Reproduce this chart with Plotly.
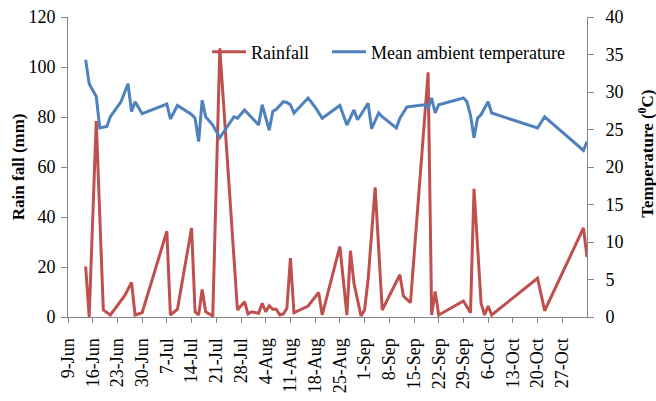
import plotly.graph_objects as go

rain_dates = ["2012-06-14", "2012-06-15", "2012-06-17", "2012-06-19", "2012-06-21", "2012-06-25",
              "2012-06-27", "2012-06-28", "2012-06-30", "2012-07-07", "2012-07-08", "2012-07-10",
              "2012-07-14", "2012-07-15", "2012-07-16", "2012-07-17", "2012-07-18", "2012-07-20",
              "2012-07-22", "2012-07-27", "2012-07-29", "2012-07-30", "2012-07-31", "2012-08-02",
              "2012-08-03", "2012-08-04", "2012-08-05", "2012-08-06", "2012-08-07", "2012-08-08",
              "2012-08-09", "2012-08-10", "2012-08-11", "2012-08-12", "2012-08-16", "2012-08-19",
              "2012-08-20", "2012-08-25", "2012-08-27", "2012-08-28", "2012-08-29", "2012-08-31",
              "2012-09-01", "2012-09-02", "2012-09-04", "2012-09-06", "2012-09-11", "2012-09-12",
              "2012-09-14", "2012-09-19", "2012-09-20", "2012-09-21", "2012-09-22", "2012-09-29",
              "2012-10-01", "2012-10-02", "2012-10-04", "2012-10-05", "2012-10-06", "2012-10-07",
              "2012-10-20", "2012-10-22", "2012-11-02", "2012-11-03"]
rain_mm = [20.2, 0, 78.4, 2.8, 0.8, 8.4,
           13.8, 0.8, 1.7, 34.3, 0.8, 3.1,
           35.6, 2.1, 0.8, 11.0, 2.1, 0.4,
           107.5, 2.8, 6.1, 1.2, 2.1, 1.5,
           5.5, 2.1, 4.5, 3.1, 3.1, 0.8,
           1.2, 3.5, 23.6, 1.7, 4.4, 9.8,
           0.8, 28.2, 0.8, 26.5, 13.5, 0.4,
           2.8, 14.9, 51.9, 2.8, 16.9, 8.4,
           5.7, 97.9, 0.8, 10.2, 0.8, 6.4,
           1.7, 51.3, 5.5, 0.8, 4.4, 0.8,
           15.5, 2.5, 35.6, 24.0]

temp_dates = ["2012-06-14", "2012-06-15", "2012-06-17", "2012-06-18", "2012-06-20", "2012-06-21",
              "2012-06-24", "2012-06-26", "2012-06-27", "2012-06-28", "2012-06-30", "2012-07-07",
              "2012-07-08", "2012-07-10", "2012-07-14", "2012-07-15", "2012-07-16", "2012-07-17",
              "2012-07-18", "2012-07-20", "2012-07-22", "2012-07-26", "2012-07-27", "2012-07-29",
              "2012-08-02", "2012-08-03", "2012-08-05", "2012-08-06", "2012-08-07", "2012-08-09",
              "2012-08-10", "2012-08-11", "2012-08-12", "2012-08-16", "2012-08-18", "2012-08-20",
              "2012-08-25", "2012-08-27", "2012-08-29", "2012-08-30", "2012-08-31", "2012-09-02",
              "2012-09-03", "2012-09-05", "2012-09-06", "2012-09-10", "2012-09-11", "2012-09-13",
              "2012-09-18", "2012-09-19", "2012-09-20", "2012-09-21", "2012-09-22", "2012-09-29",
              "2012-09-30", "2012-10-01", "2012-10-02", "2012-10-03", "2012-10-04", "2012-10-06",
              "2012-10-07", "2012-10-20", "2012-10-22", "2012-11-02", "2012-11-03"]
temp_c = [34.3, 31.1, 29.4, 25.2, 25.4, 26.7,
          28.7, 31.1, 27.4, 28.7, 27.1, 28.4,
          26.4, 28.2, 27.0, 26.5, 23.4, 28.9,
          26.7, 25.6, 23.9, 26.7, 26.5, 27.6,
          25.6, 28.3, 24.9, 27.4, 27.7, 28.7,
          28.6, 28.3, 27.2, 29.2, 28.0, 26.5,
          28.2, 25.6, 27.6, 26.3, 27.0, 28.5,
          25.1, 27.2, 26.7, 25.2, 26.5, 28.0,
          28.3, 27.8, 29.2, 27.2, 28.3, 29.2,
          28.7, 26.9, 23.9, 26.5, 27.0, 28.7,
          27.2, 25.2, 26.7, 22.2, 23.4]

tick_dates = ["2012-06-09", "2012-06-16", "2012-06-23", "2012-06-30", "2012-07-07", "2012-07-14",
              "2012-07-21", "2012-07-28", "2012-08-04", "2012-08-11", "2012-08-18", "2012-08-25",
              "2012-09-01", "2012-09-08", "2012-09-15", "2012-09-22", "2012-09-29", "2012-10-06",
              "2012-10-13", "2012-10-20", "2012-10-27"]
tick_labels = ["9-Jun", "16-Jun", "23-Jun", "30-Jun", "7-Jul", "14-Jul", "21-Jul", "28-Jul",
               "4-Aug", "11-Aug", "18-Aug", "25-Aug", "1-Sep", "8-Sep", "15-Sep", "22-Sep",
               "29-Sep", "6-Oct", "13-Oct", "20-Oct", "27-Oct"]

FONT = "Liberation Serif, Times New Roman, serif"
AXIS_COLOR = "#868686"

fig = go.Figure()
fig.add_trace(go.Scatter(x=rain_dates, y=rain_mm, mode="lines", name="Rainfall",
                         legend="legend", line=dict(color="#C0504D", width=3)))
fig.add_trace(go.Scatter(x=temp_dates, y=temp_c, mode="lines", name="Mean ambient temperature",
                         yaxis="y2", legend="legend2", line=dict(color="#4F81BD", width=3)))

legend_common = dict(orientation="h", yanchor="middle", xanchor="left", y=0.883,
                     bgcolor="rgba(0,0,0,0)", font=dict(family=FONT, size=18),
                     itemwidth=34, tracegroupgap=0)

fig.update_layout(
    width=656, height=401,
    margin=dict(l=68, r=69, t=17, b=84),
    paper_bgcolor="white", plot_bgcolor="white",
    font=dict(family=FONT, size=18, color="black"),
    showlegend=True,
    legend=dict(x=0.268, **legend_common),
    legend2=dict(x=0.499, **legend_common),
    xaxis=dict(type="date", range=["2012-06-09", "2012-11-03"],
               tickmode="array", tickvals=tick_dates, ticktext=tick_labels,
               tickangle=-90, ticks="outside", ticklen=5, tickcolor=AXIS_COLOR,
               ticklabelstandoff=8,
               showline=True, linecolor=AXIS_COLOR, linewidth=1,
               showgrid=False, zeroline=False, automargin=False,
               tickfont=dict(family=FONT, size=18)),
    yaxis=dict(range=[0, 120], tickvals=[0, 20, 40, 60, 80, 100, 120],
               ticks="outside", ticklen=6, tickcolor=AXIS_COLOR,
               ticklabelstandoff=2,
               showline=True, linecolor=AXIS_COLOR, linewidth=1,
               showgrid=False, zeroline=False, automargin=False,
               tickfont=dict(family=FONT, size=18)),
    yaxis2=dict(range=[0, 40], tickvals=[0, 5, 10, 15, 20, 25, 30, 35, 40],
                overlaying="y", side="right",
                ticks="outside", ticklen=6, tickcolor=AXIS_COLOR,
                ticklabelstandoff=8,
                showline=True, linecolor=AXIS_COLOR, linewidth=1,
                showgrid=False, zeroline=False, automargin=False,
                tickfont=dict(family=FONT, size=18)),
    annotations=[
        dict(text="<b>Rain fall (mm)</b>", xref="paper", yref="paper", x=-0.096, y=0.5,
             xanchor="center", yanchor="middle", textangle=-90, showarrow=False,
             font=dict(family=FONT, size=17)),
        dict(text="<b>Temperature (<sup>0</sup>C)</b>", xref="paper", yref="paper", x=1.113, y=0.543,
             xanchor="center", yanchor="middle", textangle=-90, showarrow=False,
             font=dict(family=FONT, size=17)),
    ],
)

fig.write_html("out.html", config={"displayModeBar": False},
               post_script="document.body.style.margin='0px';")
